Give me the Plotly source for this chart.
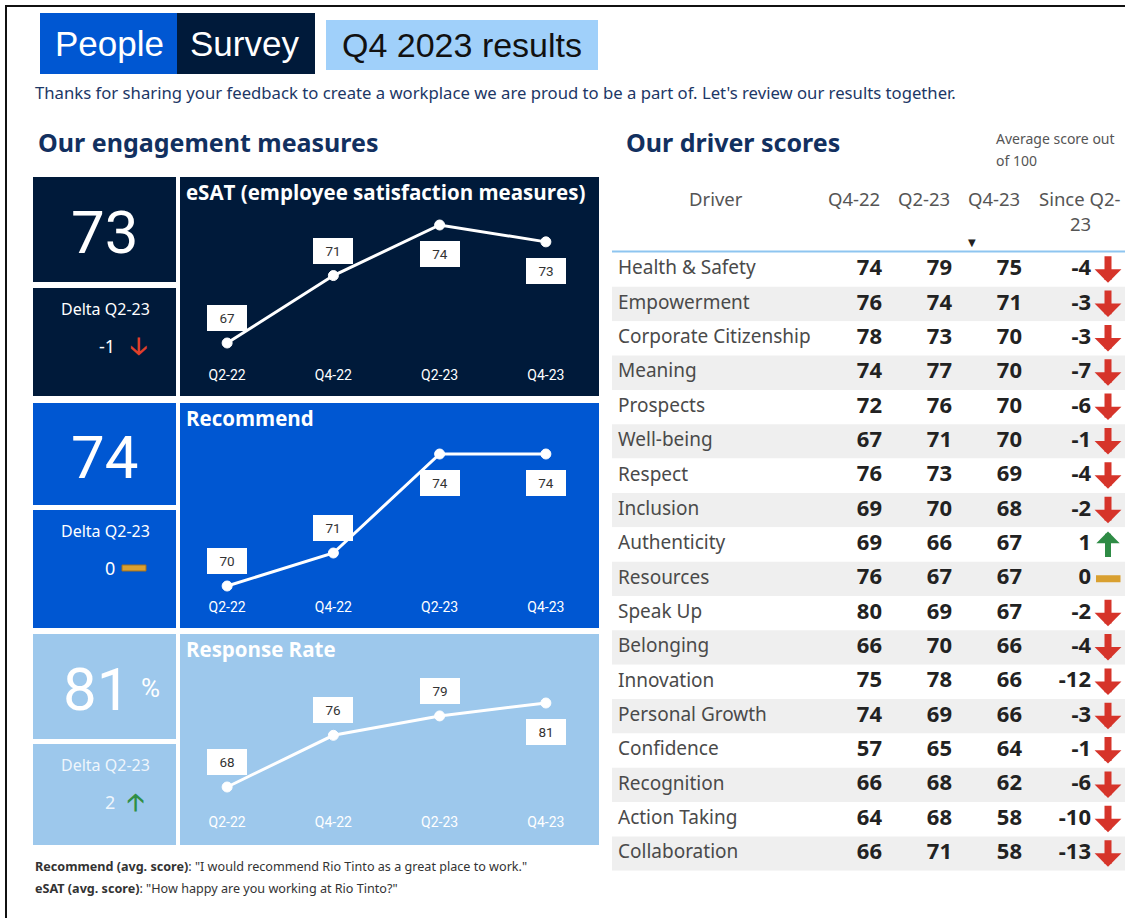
import plotly.graph_objects as go

W, H = 1125, 918

# ---------------- data ----------------
quarters = ["Q2-22", "Q4-22", "Q2-23", "Q4-23"]
esat = [67, 71, 74, 73]
recommend = [70, 71, 74, 74]
response_rate = [68, 76, 79, 81]

drivers = ["Health & Safety", "Empowerment", "Corporate Citizenship", "Meaning", "Prospects",
           "Well-being", "Respect", "Inclusion", "Authenticity", "Resources", "Speak Up",
           "Belonging", "Innovation", "Personal Growth", "Confidence", "Recognition",
           "Action Taking", "Collaboration"]
q4_22 = [74, 76, 78, 74, 72, 67, 76, 69, 69, 76, 80, 66, 75, 74, 57, 66, 64, 66]
q2_23 = [79, 74, 73, 77, 76, 71, 73, 70, 66, 67, 69, 70, 78, 69, 65, 68, 68, 71]
q4_23 = [75, 71, 70, 70, 70, 70, 69, 68, 67, 67, 67, 66, 66, 66, 64, 62, 58, 58]
table_headers = ["Driver", "Q4-22", "Q2-23", "Q4-23", "Since Q2-", "23"]

# ---------------- helpers ----------------
def px(x):
    return x / W

def py(y):
    return 1 - y / H

NAVY = "#001a3a"
BLUE = "#0057d2"
LIGHT = "#9dc8ec"
TITLE = "#12305f"
RED = "#e0402a"
GREEN = "#2f8f45"
ORANGE = "#d9a030"

fig = go.Figure()
shapes = []
annotations = []

def rect(x0, y0, x1, y1, color):
    shapes.append(dict(type="rect", xref="paper", yref="paper", x0=px(x0), x1=px(x1),
                       y0=py(y1), y1=py(y0), fillcolor=color, line=dict(width=0), layer="below"))

def text(x, y, s, size, color, family="Roboto", xanchor="center", bold=False):
    if bold:
        s = "<b>" + s + "</b>"
    annotations.append(dict(x=px(x), y=py(y), xref="paper", yref="paper", text=s, showarrow=False,
                            xanchor=xanchor, yanchor="middle",
                            font=dict(size=size, color=color, family=family)))

# frame lines
shapes.append(dict(type="line", xref="paper", yref="paper", x0=px(5), x1=1, y0=py(6), y1=py(6),
                   line=dict(color="#111", width=2)))
shapes.append(dict(type="line", xref="paper", yref="paper", x0=px(6), x1=px(6), y0=py(6), y1=0,
                   line=dict(color="#111", width=2)))

# ---------------- header ----------------
rect(40, 13, 177, 74, BLUE)
rect(177, 13, 315, 74, NAVY)
rect(326, 20, 598, 70, "#a0d0fa")
text(109, 44, "People", 35, "white", family="Liberation Sans")
text(244, 44, "Survey", 35, "white", family="Liberation Sans")
text(462, 45, "Q4 2023 results", 34, "#111", family="Liberation Sans")
text(33, 93, "Thanks for sharing your feedback to create a workplace we are proud to be a part of. "
             "Let's review our results together.", 16.7, "#1c3766", family="Noto Sans", xanchor="left")
text(36, 142, "Our engagement measures", 25, TITLE, family="Noto Sans", xanchor="left", bold=True)
text(624, 142, "Our driver scores", 25, TITLE, family="Noto Sans", xanchor="left", bold=True)
text(994, 138, "Average score out", 14, "#555", family="Noto Sans", xanchor="left")
text(994, 160, "of 100", 14, "#555", family="Noto Sans", xanchor="left")

# ---------------- engagement panels ----------------
panels = [
    dict(name="eSAT (employee satisfaction measures)", vals=esat, color=NAVY, top=177, kpi_bot=282,
         d_top=288, bot=396, plot=(195, 365), pos=["a", "a", "b", "b"], suffix="", dcol="white"),
    dict(name="Recommend", vals=recommend, color=BLUE, top=403, kpi_bot=505,
         d_top=510, bot=628, plot=(420, 597), pos=["a", "a", "b", "b"], suffix="", dcol="white"),
    dict(name="Response Rate", vals=response_rate, color=LIGHT, top=634, kpi_bot=739,
         d_top=744, bot=845, plot=(650, 812), pos=["a", "a", "a", "b"], suffix="%",
         dcol="rgba(255,255,255,0.85)"),
]
# value -> pixel anchors (for y ranges)
anchors = [((67, 343), (74, 225)), ((70, 586), (74, 454)), ((68, 787), (81, 703))]

layout_axes = {}
for i, p in enumerate(panels):
    n = i + 1
    rect(33, p["top"], 176, p["kpi_bot"], p["color"])
    rect(33, p["d_top"], 176, p["bot"], p["color"])
    rect(180, p["top"], 599, p["bot"], p["color"])
    vals = p["vals"]
    kcy = (p["top"] + p["kpi_bot"]) / 2 + 3
    if p["suffix"]:
        text(96, kcy, str(vals[-1]), 60, "white")
        text(150, kcy - 2, p["suffix"], 26, "white")
    else:
        text(104, kcy, str(vals[-1]), 60, "white")
    text(105, p["d_top"] + 21, "Delta Q2-23", 16, p["dcol"], family="Noto Sans")
    delta = vals[-1] - vals[-2]
    dy = p["d_top"] + 58
    text(117, dy, str(delta), 18, p["dcol"], family="Noto Sans", xanchor="right")
    if delta < 0:
        text(138, dy, "<b>🡣</b>", 24, RED, family="DejaVu Sans")
    elif delta > 0:
        text(135, dy, "<b>🡡</b>", 24, GREEN, family="DejaVu Sans")
    else:
        shapes.append(dict(type="rect", xref="paper", yref="paper", x0=px(122), x1=px(146),
                           y0=py(dy + 3), y1=py(dy - 3), fillcolor=ORANGE,
                           line=dict(color="#a07020", width=1)))
    text(184, p["top"] + 15, p["name"], 20.5, "white", family="Open Sans", xanchor="left", bold=True)

    # axis mapping
    (v0, y0), (v1, y1) = anchors[i]
    scale = (y0 - y1) / (v1 - v0)
    ptop, pbot = p["plot"]
    ymin = v0 - (pbot - y0) / scale
    ymax = v0 + (y0 - ptop) / scale
    xa = "x" if n == 1 else f"x{n}"
    ya = "y" if n == 1 else f"y{n}"
    fig.add_trace(go.Scatter(x=quarters, y=vals, mode="lines+markers", xaxis=xa, yaxis=ya,
                             line=dict(color="white", width=3),
                             marker=dict(size=10, color="white", line=dict(color="white", width=1)),
                             showlegend=False, hoverinfo="skip"))
    layout_axes["xaxis" + ("" if n == 1 else str(n))] = dict(
        domain=[px(174), px(599)], range=[-0.5, 3.5], type="category", showgrid=False, zeroline=False,
        showline=False, ticks="", tickfont=dict(color="white", size=14, family="Roboto"),
        anchor=ya, fixedrange=True)
    layout_axes["yaxis" + ("" if n == 1 else str(n))] = dict(
        domain=[py(pbot), py(ptop)], range=[ymin, ymax], showgrid=False, zeroline=False,
        showline=False, showticklabels=False, anchor=xa, fixedrange=True)
    for q, v, pos in zip(quarters, vals, p["pos"]):
        annotations.append(dict(x=q, y=v, xref=xa, yref=ya, text=str(v), showarrow=False,
                                yshift=25 if pos == "a" else -29, bgcolor="white",
                                bordercolor="white", borderpad=4, width=30,
                                font=dict(size=13.5, color="#333", family="Roboto")))

# footer
text(33, 866, "<b>Recommend (avg. score)</b>: \"I would recommend Rio Tinto as a great place to work.\"",
     12.6, "#333", family="Noto Sans", xanchor="left")
text(33, 888, "<b>eSAT (avg. score)</b>: \"How happy are you working at Rio Tinto?\"",
     12.6, "#333", family="Noto Sans", xanchor="left")

# ---------------- driver table (text traces on a row axis) ----------------
since = [b - a for a, b in zip(q2_23, q4_23)]
n_rows = len(drivers)
row_fill = ["white" if k % 2 == 0 else "#efefef" for k in range(n_rows)]
body_top = 252.5
row_h = 34.35
body_bot = body_top + row_h * n_rows
TX0, TX1 = 612, 1125

layout_axes["xaxis4"] = dict(domain=[px(TX0), px(TX1)], range=[TX0, TX1], visible=False,
                             anchor="y4", fixedrange=True)
layout_axes["yaxis4"] = dict(domain=[py(body_bot), py(body_top)], range=[n_rows - 0.5, -0.5],
                             type="category", categoryorder="array", categoryarray=drivers,
                             visible=False, anchor="x4", fixedrange=True)

# zebra row bands
fig.add_trace(go.Bar(y=drivers, x=[TX1 - TX0] * n_rows, base=TX0, orientation="h", width=1.0,
                     marker=dict(color=row_fill, line=dict(width=0)), xaxis="x4", yaxis="y4",
                     showlegend=False, hoverinfo="skip"))
# driver names
fig.add_trace(go.Scatter(x=[618] * n_rows, y=drivers, mode="text", text=drivers,
                         textposition="middle right", xaxis="x4", yaxis="y4",
                         textfont=dict(family="Noto Sans", size=19, color="#4a4a4a"),
                         showlegend=False, hoverinfo="skip"))
col_right = [882, 952, 1022]
for xr, col in zip(col_right, [q4_22, q2_23, q4_23]):
    fig.add_trace(go.Scatter(x=[xr] * n_rows, y=drivers, mode="text", text=[str(v) for v in col],
                             textposition="middle left", xaxis="x4", yaxis="y4",
                             textfont=dict(family="Noto Sans", size=22, color="#222", weight="bold"),
                             showlegend=False, hoverinfo="skip"))
fig.add_trace(go.Scatter(x=[1091] * n_rows, y=drivers, mode="text", text=[str(d) for d in since],
                         textposition="middle left", xaxis="x4", yaxis="y4",
                         textfont=dict(family="Noto Sans", size=22, color="#222", weight="bold"),
                         showlegend=False, hoverinfo="skip"))
# trend icons: arrows drawn at each row
for d, drv in zip(since, drivers):
    if d < 0:
        annotations.append(dict(x=1108, y=drv, xref="x4", yref="y4", text="", showarrow=True,
                                ax=0, ay=-28, yshift=-13, arrowhead=1, arrowwidth=7, arrowsize=0.64,
                                arrowcolor="#d6342a", standoff=0, startstandoff=0))
    elif d > 0:
        annotations.append(dict(x=1108, y=drv, xref="x4", yref="y4", text="", showarrow=True,
                                ax=0, ay=27, yshift=13, arrowhead=1, arrowwidth=6, arrowsize=0.65,
                                arrowcolor="#2e8b45", standoff=0, startstandoff=0))
    else:
        annotations.append(dict(x=1096, y=drv, xref="x4", yref="y4", text="", showarrow=True,
                                ax=26, ay=0, arrowhead=0, arrowwidth=7,
                                arrowcolor=ORANGE, standoff=0, startstandoff=0))

# header of the table
hdr_y = 198
text(716, hdr_y, table_headers[0], 18.5, "#555", family="Noto Sans")
for xr, h in zip(col_right, table_headers[1:4]):
    text(xr, hdr_y, h, 18.5, "#555", family="Noto Sans", xanchor="right")
text(1080, hdr_y, table_headers[4], 18.5, "#555", family="Noto Sans")
text(1080, hdr_y + 26, table_headers[5], 18.5, "#555", family="Noto Sans")
text(972, 242, "▼", 10, "#222", family="DejaVu Sans")
shapes.append(dict(type="line", xref="paper", yref="paper", x0=px(TX0), x1=1,
                   y0=py(body_top - 1), y1=py(body_top - 1), line=dict(color="#8ec5f0", width=2)))

fig.update_layout(width=W, height=H, margin=dict(l=0, r=0, t=0, b=0),
                  paper_bgcolor="white", plot_bgcolor="rgba(0,0,0,0)",
                  shapes=shapes, annotations=annotations, showlegend=False, **layout_axes)
fig.write_html("out.html", config={"displayModeBar": False})
